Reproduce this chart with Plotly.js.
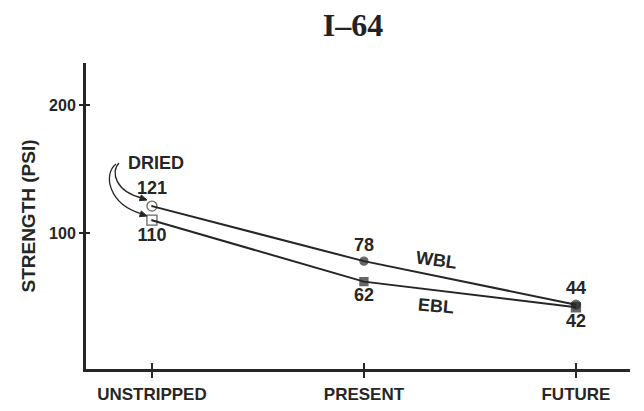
<!DOCTYPE html>
<html><head><meta charset="utf-8">
<script src="https://cdn.plot.ly/plotly-3.0.1.min.js"></script>
<style>html,body{margin:0;padding:0;background:#fff}#c{width:644px;height:411px}</style>
</head><body><div id="c"></div>
<script>
const categories = ['UNSTRIPPED', 'PRESENT', 'FUTURE'];
const wblValues = [121, 78, 44];
const eblValues = [110, 62, 42];
const wblLabels = ['121', '78', '44'];
const eblLabels = ['110', '62', '42'];
const yTickVals = [100, 200];
const yTickText = ['100', '200'];

const ink = '#262626';
const fam = 'Liberation Sans, Arial, sans-serif';
const lblFont = {family: fam, size: 18, color: ink, weight: 'bold'};

const traces = [
  {x: categories, y: wblValues, mode: 'lines+markers+text', text: wblLabels,
   textposition: 'top center', textfont: lblFont, cliponaxis: false,
   line: {color: ink, width: 2},
   marker: {symbol: ['circle-open-dot', 'circle', 'circle'], size: [10, 8, 9], color: ink, line: {color: ink, width: 1.3}},
   hoverinfo: 'none'},
  {x: categories, y: eblValues, mode: 'lines+markers+text', text: eblLabels,
   textposition: 'bottom center', textfont: lblFont, cliponaxis: false,
   line: {color: ink, width: 2},
   marker: {symbol: ['square-open-dot', 'square', 'square'], size: [10, 8, 9], color: ink, line: {color: ink, width: 1.3}},
   hoverinfo: 'none'},
  {x: [0], y: [0], xaxis: 'x2', yaxis: 'y2', mode: 'markers', marker: {opacity: 0}, hoverinfo: 'none', showlegend: false}
];

// paper coordinate helpers for annotation arrows (plot area 86..630 x 63..369)
const px = X => (X - 86) / 544, py = Y => (369 - Y) / 306;
const curve = (pts) => 'M ' + px(pts[0]) + ' ' + py(pts[1]) + ' C ' + px(pts[2]) + ' ' + py(pts[3]) + ' ' + px(pts[4]) + ' ' + py(pts[5]) + ' ' + px(pts[6]) + ' ' + py(pts[7]);
const head = (x, y, dx, dy) => {
  const L = 7, W = 3, n = Math.hypot(dx, dy), ux = dx / n, uy = dy / n;
  const bx = x - ux * L, by = y - uy * L;
  return 'M ' + px(x) + ' ' + py(y) + ' L ' + px(bx - uy * W) + ' ' + py(by + ux * W) + ' L ' + px(bx + uy * W) + ' ' + py(by - ux * W) + ' Z';
};

const layout = {
  width: 644, height: 411,
  margin: {l: 86, r: 14, t: 63, b: 42},
  paper_bgcolor: '#fff', plot_bgcolor: '#fff',
  showlegend: false,
  title: {text: '<b>I–64</b>', x: 0.548, xanchor: 'center', y: 0.94, yanchor: 'middle',
          font: {family: 'Liberation Serif, Times New Roman, serif', size: 32, color: '#222'}},
  xaxis: {type: 'category', range: [-0.311, 2.255], showgrid: false, zeroline: false,
          showline: true, linecolor: ink, linewidth: 2.5, ticks: 'outside', ticklen: 6, tickwidth: 2, tickcolor: ink,
          tickfont: {family: fam, size: 17, color: ink, weight: 'bold'},
          ticklabelstandoff: 2},
  yaxis: {range: [-6.25, 232.8], showgrid: false, zeroline: false, tickvals: yTickVals, ticktext: yTickText,
          showline: true, linecolor: ink, linewidth: 3, ticks: 'outside', ticklen: 4, tickwidth: 2, tickcolor: ink,
          tickfont: {family: fam, size: 16, color: ink, weight: 'bold'},
          title: {text: '<b>STRENGTH (PSI)</b>', standoff: 9,
                  font: {family: fam, size: 19, color: ink}}},
  xaxis2: {overlaying: 'x', type: 'category', categoryarray: categories, range: [-0.311, 2.255], showgrid: false, zeroline: false,
           ticks: 'inside', ticklen: 6, tickwidth: 2, tickcolor: ink, showticklabels: false,
           tickvals: categories, anchor: 'y2', side: 'bottom', showline: false},
  yaxis2: {overlaying: 'y', range: [-6.25, 232.8], showgrid: false, zeroline: false, tickvals: yTickVals,
           ticks: 'inside', ticklen: 4, tickwidth: 2, tickcolor: ink, showticklabels: false, anchor: 'x2', side: 'left'},
  annotations: [
    {xref: 'paper', yref: 'paper', x: px(156), y: py(163), xanchor: 'center', yanchor: 'middle', text: '<b>DRIED</b>', showarrow: false,
     font: {family: fam, size: 18, color: ink}},
    {xref: 'x', yref: 'y', x: 1.34, y: 79, xanchor: 'center', yanchor: 'middle', text: '<b>WBL</b>', showarrow: false, textangle: 8,
     font: {family: fam, size: 18, color: ink}},
    {xref: 'x', yref: 'y', x: 1.34, y: 43, xanchor: 'center', yanchor: 'middle', text: '<b>EBL</b>', showarrow: false, textangle: 5,
     font: {family: fam, size: 18, color: ink}}
  ],
  shapes: [
    {type: 'path', xref: 'paper', yref: 'paper', path: curve([119, 163, 110, 172, 116, 192, 142, 198]), line: {color: ink, width: 1.3}},
    {type: 'path', xref: 'paper', yref: 'paper', path: curve([116, 164, 103, 174, 108, 204, 142, 214]), line: {color: ink, width: 1.3}},
    {type: 'path', xref: 'paper', yref: 'paper', path: head(147, 200, 3, 1), fillcolor: ink, line: {color: ink, width: 1}},
    {type: 'path', xref: 'paper', yref: 'paper', path: head(147, 216, 3, 1), fillcolor: ink, line: {color: ink, width: 1}}
  ]
};

Plotly.newPlot('c', traces, layout, {displayModeBar: false, staticPlot: true});
</script></body></html>
